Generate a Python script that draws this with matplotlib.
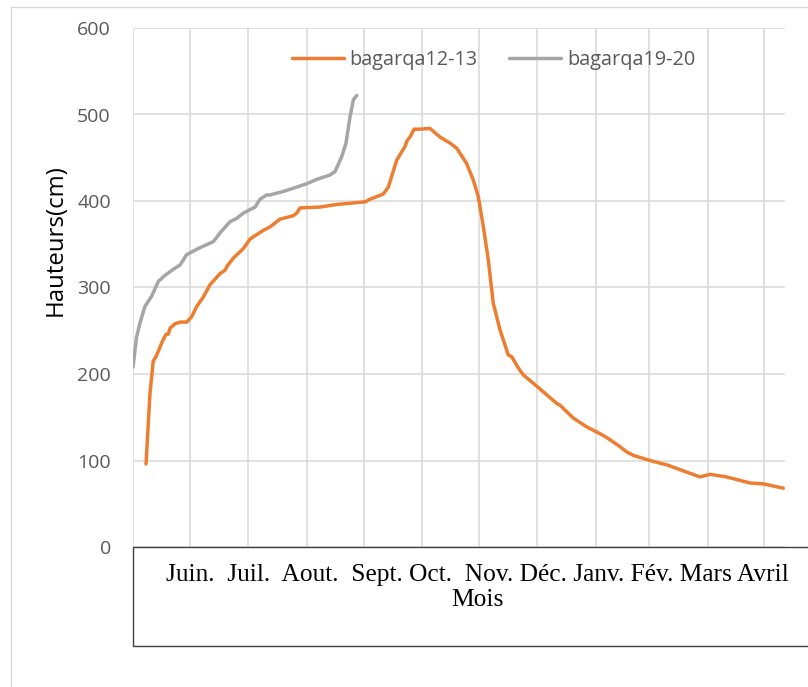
import matplotlib
matplotlib.use("Agg")
import matplotlib.pyplot as plt
from matplotlib.lines import Line2D

# values (x = days from start of record)
orange_days = [6.9, 9.0, 10.7, 12.2, 15.2, 17.5, 18.7, 19.6, 22.2, 24.9, 28.4, 31.0,
               33.7, 37.2, 40.7, 46.0, 48.7, 49.9, 53.1, 58.4, 61.9, 68.9, 72.5, 76.0,
               77.8, 84.8, 86.6, 88.4, 98.9, 107.8, 122.8, 125.4, 132.4, 135.1, 139.5,
               143.9, 145.1, 146.6, 148.7, 151.9, 157.1, 162.4, 167.7, 171.3, 176.6,
               180.1, 182.7, 185.4, 188.0, 190.6, 194.2, 198.6, 200.4, 203.9, 206.5,
               213.6, 224.2, 225.9, 233.0, 240.0, 248.8, 252.4, 257.7, 261.2, 264.7,
               273.5, 282.4, 291.2, 300.0, 305.3, 314.1, 326.5, 333.5, 344.1]
orange_vals = [96, 178, 215, 220, 236, 246, 246, 253, 258, 260, 260, 266,
               278, 289, 303, 316, 320, 325, 334, 345, 356, 366, 370, 376,
               379, 383, 386, 392, 393, 396, 399, 402, 408, 416, 447,
               463, 470, 474, 483, 483, 484, 474, 467, 461, 443,
               424, 405, 370, 332, 282, 251, 222, 220, 207, 199,
               186, 166, 164, 149, 139, 129, 124, 116, 110, 106,
               100, 95, 88, 81, 84, 81, 74, 73, 68]

gray_days = [0, 1.9, 3.7, 6.3, 9.9, 13.4, 16.9, 21.3, 24.9, 28.4, 31.0, 35.4, 42.5,
             46.0, 51.3, 54.9, 58.4, 64.6, 67.2, 70.7, 72.5, 79.5, 86.6, 91.9, 97.2,
             104.2, 106.9, 110.4, 112.7, 114.8, 116.6, 118.4]
gray_vals = [208, 243, 259, 278, 290, 307, 314, 321, 326, 338, 341, 346, 353,
             363, 376, 380, 386, 393, 402, 407, 407, 411, 416, 420, 425,
             430, 434, 451, 467, 497, 517, 522]

month_starts = [0, 30, 61, 92, 122, 153, 183, 214, 245, 273, 304, 334]
month_text = "Juin.  Juil.  Aout.  Sept. Oct.  Nov. Déc. Janv. Fév. Mars Avril"
yticks = [0, 100, 200, 300, 400, 500, 600]

W, H = 808, 687
fig = plt.figure(figsize=(W / 100, H / 100), dpi=100)
ax = fig.add_axes([133 / W, 1 - 547 / H, (785 - 133) / W, (547 - 28) / H])

ax.plot(orange_days, orange_vals, color="#ED7D31", lw=2.5, label="bagarqa12-13",
        solid_capstyle="round", solid_joinstyle="round")
ax.plot(gray_days, gray_vals, color="#A5A5A5", lw=2.5, label="bagarqa19-20",
        solid_capstyle="round", solid_joinstyle="round")

ax.set_xlim(0, 345)
ax.set_ylim(0, 600)
ax.set_xticks(month_starts)
ax.set_xticklabels([])
ax.set_yticks(yticks)
ax.grid(True, color="#D9D9D9", lw=1.1)
ax.set_axisbelow(True)
ax.tick_params(length=0)
ax.tick_params(axis="y", labelsize=14, labelcolor="#595959", pad=16)
for lab in ax.get_yticklabels():
    lab.set_family("Open Sans")
for s in ["top", "right", "bottom", "left"]:
    ax.spines[s].set_visible(False)

leg = ax.legend(ncol=2, loc="center", bbox_to_anchor=(0.553, 0.938), frameon=False,
                prop={"family": "Open Sans", "size": 14.3}, labelcolor="#595959",
                handlelength=2.6, handletextpad=0.3, columnspacing=1.6)

def fig_line(xs, ys, color):
    fig.add_artist(Line2D([x / W for x in xs], [1 - y / H for y in ys],
                          color=color, lw=1.0, transform=fig.transFigure))

# outer chart border
fig_line([10.5, 10.5, 808], [700, 6.5, 6.5], "#D9D9D9")
# box under the plot holding the axis title
fig_line([808, 132.5, 132.5, 808], [547, 547, 645.5, 645.5], "#404040")

fig.text(477.5 / W, 1 - 587.5 / H, month_text + "\nMois", ha="center", va="center",
         multialignment="center", family="Liberation Serif", fontsize=18.3, color="black",
         linespacing=1.22)
fig.text(56 / W, 1 - 240 / H, "Hauteurs(cm)", rotation=90, ha="center", va="center",
         family="Open Sans", fontsize=17.3, color="black")

fig.savefig("out.png", dpi=100)
